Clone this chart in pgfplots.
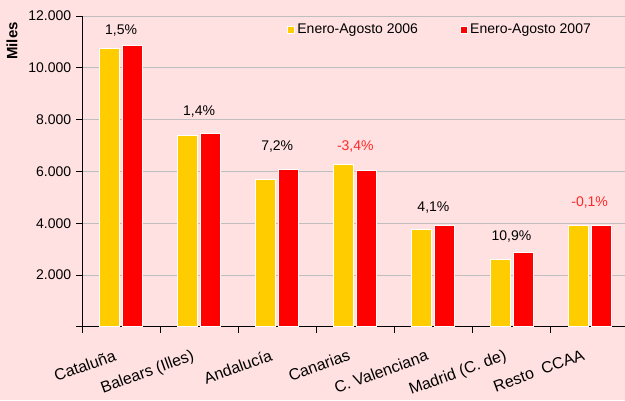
\documentclass[border=0pt]{standalone}
\usepackage{pgfplots}
\pgfplotsset{compat=1.18}
\usepackage{fontspec}
\setmainfont{Liberation Sans}
\definecolor{bgpink}{RGB}{255,225,225}
\definecolor{cyel}{RGB}{255,204,0}
\definecolor{cred}{RGB}{255,0,0}
\definecolor{gridgray}{RGB}{190,190,190}
\definecolor{pred}{RGB}{255,40,40}
\begin{document}
\fontsize{14pt}{16pt}\selectfont
\begin{tikzpicture}[x=1pt,y=1pt]
\fill[bgpink] (0,0) rectangle (625,400);
\path[use as bounding box] (0,0) rectangle (625,400);
\node[rotate=90,font=\fontsize{15pt}{17pt}\selectfont\bfseries] at (12,359) {Miles};
\begin{axis}[
  at={(82pt,73.2pt)}, anchor=south west,
  scale only axis, width=543pt, height=310.8pt,
  xmin=0.5, xmax=7.453, ymin=0, ymax=12000,
  axis lines*=left,
  axis line style={black, line width=0.8pt},
  clip=false,
  ybar, bar width=20pt,
  scaled y ticks=false,
  ytick={0,2000,4000,6000,8000,10000,12000},
  yticklabels={,2.000,4.000,6.000,8.000,10.000,12.000},
  ymajorgrids, grid style={gridgray, line width=0.8pt},
  tick align=outside, major tick length=6pt,
  tick style={black, line width=0.8pt},
  xtick={0.5,1.5,...,6.5}, xticklabels={},
  extra x ticks={1,2,3,4,5,6,7},
  extra x tick labels={Cataluña,Balears (Illes),Andalucía,Canarias,C. Valenciana,Madrid (C. de),Resto\ \ CCAA},
  extra x tick style={major tick length=0pt, xticklabel style={font=\fontsize{16pt}{18pt}\selectfont, xshift=-8pt, yshift=-22pt, rotate=20, anchor=north east, inner sep=0pt}},
  legend columns=2, legend cell align=left,
  legend style={at={(0.3775,0.955)}, anchor=west, draw=none, fill=none, inner sep=0pt,
    /tikz/every even column/.append style={column sep=40pt}},
  legend image code/.code={\draw[#1, draw=white, line width=1.2pt] (0pt,-3.5pt) rectangle (7pt,3.5pt);},
]
\addplot[fill=cyel, draw=white, line width=1pt, bar shift=-11.5pt] coordinates {(1,10730) (2,7405) (3,5690) (4,6275) (5,3776) (6,2615) (7,3920)};
\addplot[fill=cred, draw=white, line width=1pt, bar shift=11.5pt] coordinates {(1,10870) (2,7470) (3,6090) (4,6050) (5,3930) (6,2860) (7,3915)};
\legend{Enero-Agosto 2006, Enero-Agosto 2007}
\node at (axis cs:1,11432) {1,5\%};
\node at (axis cs:2,8293) {1,4\%};
\node at (axis cs:3,6954) {7,2\%};
\node[text=pred] at (axis cs:4,6954) {-3,4\%};
\node at (axis cs:5,4587) {4,1\%};
\node at (axis cs:6,3467) {10,9\%};
\node[text=pred] at (axis cs:7,4818) {-0,1\%};
\end{axis}
\end{tikzpicture}
\end{document}
